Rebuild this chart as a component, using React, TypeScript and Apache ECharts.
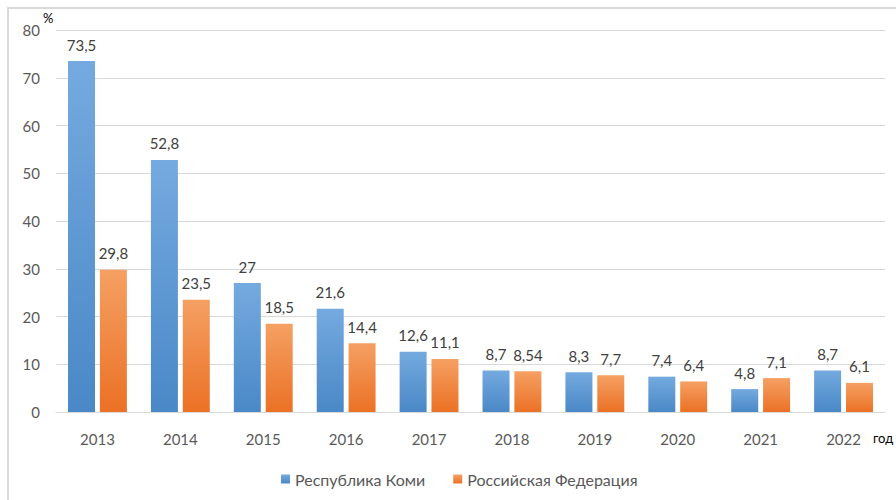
import React, { useEffect, useRef } from "react";
import * as echarts from "echarts";

const years = ["2013", "2014", "2015", "2016", "2017", "2018", "2019", "2020", "2021", "2022"];
const komi = [73.5, 52.8, 27, 21.6, 12.6, 8.7, 8.3, 7.4, 4.8, 8.7];
const russia = [29.8, 23.5, 18.5, 14.4, 11.1, 8.54, 7.7, 6.4, 7.1, 6.1];
const seriesNames = ["Республика Коми", "Российская Федерация"];
const yUnit = "%";
const xUnit = "год";

const FONT = "Lato, 'Open Sans', sans-serif";

export default function App() {
  const ref = useRef<HTMLDivElement>(null);
  useEffect(() => {
    if (!ref.current) return;
    const chart = echarts.init(ref.current, undefined, { renderer: "svg" });
    const fmt = (p: any) => String(p.value).replace(".", ",");
    const blue = new echarts.graphic.LinearGradient(0, 0, 0, 1, [
      { offset: 0, color: "#74aadf" },
      { offset: 1, color: "#4a88c7" },
    ]);
    const orange = new echarts.graphic.LinearGradient(0, 0, 0, 1, [
      { offset: 0, color: "#f5a063" },
      { offset: 1, color: "#eb7125" },
    ]);
    chart.setOption({
      animation: false,
      backgroundColor: "#ffffff",
      textStyle: { fontFamily: FONT },
      grid: { left: 56, right: 11, top: 30, bottom: 88 },
      legend: {
        top: 466,
        left: 276,
        itemWidth: 9,
        itemHeight: 9,
        itemGap: 28,
        icon: "rect",
        textStyle: { color: "#595959", fontSize: 16, fontFamily: FONT },
        data: seriesNames,
      },
      xAxis: {
        type: "category",
        data: years,
        axisLine: { lineStyle: { color: "#d9d9d9", width: 1 } },
        axisTick: { show: false },
        axisLabel: { color: "#595959", fontSize: 15, margin: 19, fontFamily: FONT },
      },
      yAxis: {
        type: "value",
        min: 0,
        max: 80,
        interval: 10,
        axisLine: { show: false },
        axisTick: { show: false },
        splitLine: { lineStyle: { color: "#d9d9d9", width: 1 } },
        axisLabel: { color: "#595959", fontSize: 15, margin: 16, fontFamily: FONT },
      },
      series: [
        {
          name: seriesNames[0],
          type: "bar",
          data: komi,
          barWidth: 27,
          barGap: "18%",
          itemStyle: { color: blue },
          label: {
            show: true,
            position: "top",
            distance: 9,
            color: "#404040",
            fontSize: 15,
            fontFamily: FONT,
            formatter: fmt,
          },
        },
        {
          name: seriesNames[1],
          type: "bar",
          data: russia,
          barWidth: 27,
          barGap: "18%",
          itemStyle: { color: orange },
          label: {
            show: true,
            position: "top",
            distance: 9,
            color: "#404040",
            fontSize: 15,
            fontFamily: FONT,
            formatter: fmt,
          },
        },
      ],
      graphic: [
        {
          type: "rect",
          silent: true,
          shape: { x: 8, y: 8, width: 900, height: 500 },
          style: { fill: "none", stroke: "#d9d9d9", lineWidth: 2 },
        },
        {
          type: "text",
          x: 43,
          y: 11,
          style: { text: yUnit, fill: "#000000", fontSize: 13, fontFamily: FONT },
        },
        {
          type: "text",
          x: 873,
          y: 431,
          style: { text: xUnit, fill: "#000000", fontSize: 13, fontFamily: FONT },
        },
      ],
    });
    return () => chart.dispose();
  }, []);
  return (
    <div
      ref={ref}
      style={{ position: "fixed", left: 0, top: 0, width: 896, height: 500 }}
    />
  );
}
